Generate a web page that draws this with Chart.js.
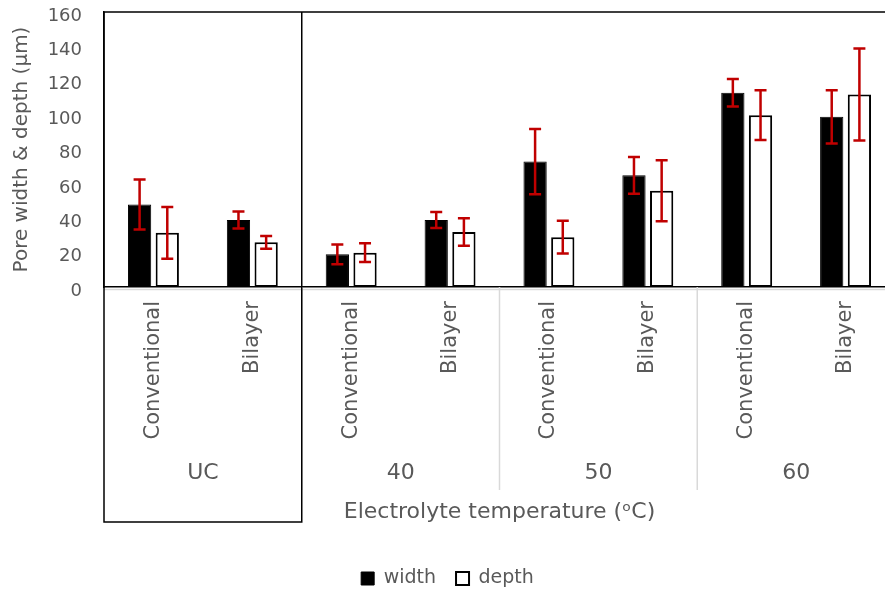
<!DOCTYPE html>
<html>
<head>
<meta charset="utf-8">
<script src="https://cdn.jsdelivr.net/npm/chart.js@4.4.1/dist/chart.umd.min.js"></script>
<style>
  html, body { margin: 0; padding: 0; background: #fff; overflow: hidden; }
  #wrap { width: 895px; height: 591px; }
</style>
</head>
<body>
<div id="wrap"><canvas id="chart"></canvas></div>
<script>
const groups = ['UC', '40', '50', '60'];
const types = ['Conventional', 'Bilayer'];
const categories = ['Conventional', 'Bilayer', 'Conventional', 'Bilayer', 'Conventional', 'Bilayer', 'Conventional', 'Bilayer'];

const widthValues = [48, 39, 19, 39, 73, 65, 113, 99];
const widthErrors = [14.5, 5, 5.7, 4.7, 19, 10.7, 8, 15.5];
const depthValues = [31.5, 26, 20, 32, 29, 56, 100, 112];
const depthErrors = [15, 3.7, 5.5, 8, 9.5, 17.8, 14.5, 26.8];

const yTicks = [0, 20, 40, 60, 80, 100, 120, 140, 160];

const TEXT = '#595959';
Chart.defaults.font.family = '"DejaVu Sans", sans-serif';
Chart.defaults.color = TEXT;

// error bars, box round UC, group separators and group labels
const decorations = {
    id: 'decorations',
    afterDatasetsDraw(chart) {
        const ctx = chart.ctx;
        const y = chart.scales.y;
        ctx.save();
        ctx.strokeStyle = '#c00000';
        ctx.lineWidth = 2.5;
        chart.data.datasets.forEach((ds, i) => {
            chart.getDatasetMeta(i).data.forEach((bar, j) => {
                const top = y.getPixelForValue(ds.data[j] + ds.errors[j]);
                const bot = y.getPixelForValue(ds.data[j] - ds.errors[j]);
                ctx.beginPath();
                ctx.moveTo(bar.x, top); ctx.lineTo(bar.x, bot);
                ctx.moveTo(bar.x - 6, top); ctx.lineTo(bar.x + 6, top);
                ctx.moveTo(bar.x - 6, bot); ctx.lineTo(bar.x + 6, bot);
                ctx.stroke();
            });
        });
        ctx.restore();
    },
    afterDraw(chart) {
        const ctx = chart.ctx;
        const area = chart.chartArea;
        const x = chart.scales.x;
        const per = types.length;
        const edge = k => k === 0 ? area.left : k === categories.length ? area.right
            : (x.getPixelForValue(k - 1) + x.getPixelForValue(k)) / 2;

        const labelY = x.bottom - 76;
        const sepBottom = x.bottom - 59;
        const boxBottom = x.bottom - 27;

        ctx.save();
        // grey category axis line and group separators
        ctx.strokeStyle = '#d9d9d9';
        ctx.lineWidth = 1.5;
        ctx.beginPath();
        ctx.moveTo(area.left, area.bottom + 2.5);
        ctx.lineTo(area.right, area.bottom + 2.5);
        for (let g = 1; g <= groups.length; g++) {
            const ex = edge(g * per);
            ctx.moveTo(ex, area.bottom);
            ctx.lineTo(ex, sepBottom);
        }
        ctx.stroke();

        // group labels
        ctx.fillStyle = TEXT;
        ctx.font = '22px "DejaVu Sans", sans-serif';
        ctx.textAlign = 'center';
        ctx.textBaseline = 'middle';
        groups.forEach((g, i) => {
            ctx.fillText(g, (edge(i * per) + edge((i + 1) * per)) / 2, labelY);
        });

        // plot top border and the box round UC
        ctx.strokeStyle = '#000';
        ctx.lineWidth = 1.5;
        ctx.beginPath();
        ctx.moveTo(area.left, area.top);
        ctx.lineTo(area.right, area.top);
        const ucRight = edge(per);
        ctx.moveTo(area.left, area.top);
        ctx.lineTo(area.left, boxBottom);
        ctx.lineTo(ucRight, boxBottom);
        ctx.lineTo(ucRight, area.top);
        ctx.stroke();
        ctx.restore();
    }
};

new Chart(document.getElementById('chart'), {
    type: 'bar',
    data: {
        labels: categories,
        datasets: [{
            label: 'width',
            data: widthValues,
            errors: widthErrors,
            backgroundColor: '#000',
            borderColor: '#000',
            borderWidth: 1,
            categoryPercentage: 0.56,
            barPercentage: 0.84
        }, {
            label: 'depth',
            data: depthValues,
            errors: depthErrors,
            backgroundColor: '#fff',
            borderColor: '#000',
            borderWidth: 2,
            borderSkipped: false,
            categoryPercentage: 0.56,
            barPercentage: 0.84
        }]
    },
    options: {
        responsive: true,
        maintainAspectRatio: false,
        animation: false,
        layout: { padding: { top: 12, right: 0, left: 0, bottom: -7 } },
        plugins: {
            tooltip: { enabled: false },
            legend: {
                position: 'bottom',
                labels: {
                    boxWidth: 13,
                    boxHeight: 13,
                    padding: 20,
                    font: { size: 19 },
                    color: TEXT
                }
            }
        },
        scales: {
            x: {
                grid: { display: false, drawTicks: false },
                border: { display: true, color: '#000', width: 1.5 },
                ticks: {
                    autoSkip: false,
                    minRotation: 90,
                    maxRotation: 90,
                    padding: 14,
                    font: { size: 21 },
                    color: TEXT
                },
                title: {
                    display: true,
                    text: 'Electrolyte temperature (ᵒC)',
                    font: { size: 22 },
                    color: TEXT,
                    padding: { top: 0, bottom: 24 }
                },
                afterFit(scale) {
                    scale.height = 262;
                    scale.paddingLeft = 0;
                    scale.paddingRight = 0;
                }
            },
            y: {
                min: 0,
                max: 160,
                afterBuildTicks(scale) { scale.ticks = yTicks.map(v => ({ value: v })); },
                grid: { display: false, drawTicks: false },
                border: { display: true, color: '#000', width: 1.5 },
                ticks: { padding: 22, labelOffset: 4, font: { size: 18 }, color: TEXT },
                title: {
                    display: true,
                    text: 'Pore width & depth (µm)',
                    font: { size: 20 },
                    color: TEXT,
                    padding: { top: 10, bottom: 0 }
                },
                afterFit(scale) {
                    scale.width = 104;
                    scale.paddingTop = 0;
                    scale.paddingBottom = 0;
                }
            }
        }
    },
    plugins: [decorations]
});
</script>
</body>
</html>
